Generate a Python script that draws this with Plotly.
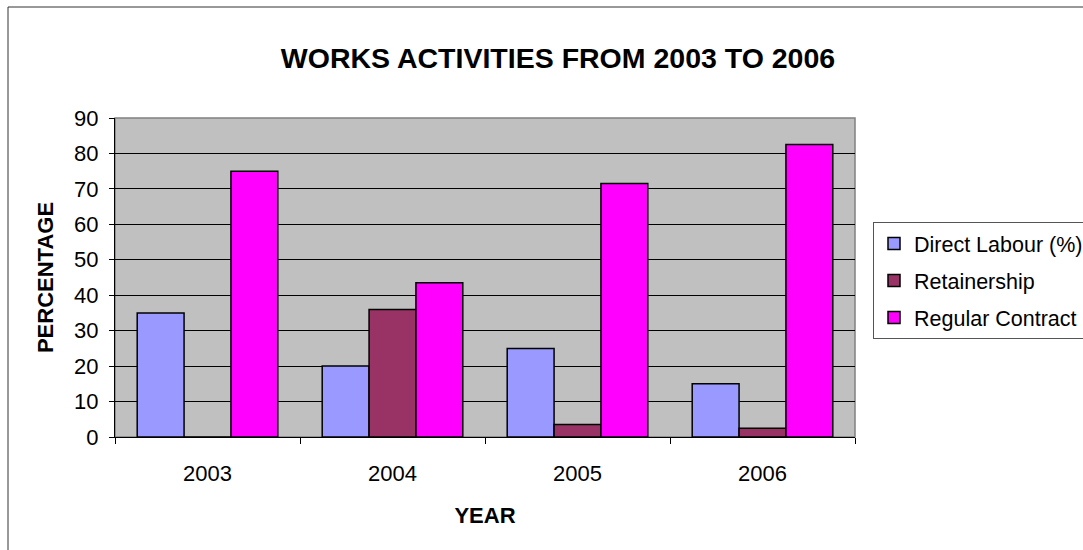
import plotly.graph_objects as go

years = ["2003", "2004", "2005", "2006"]
direct_labour = [35, 20, 25, 15]
retainership = [0, 36, 3.5, 2.5]
regular_contract = [75, 43.5, 71.5, 82.5]

series_names = ["Direct Labour (%)", "Retainership", "Regular Contract"]
series_colors = ["#9999FF", "#993366", "#FF00FF"]

FONT = "Liberation Sans, Arial, sans-serif"

fig = go.Figure()
for i, (name, vals, col) in enumerate(zip(series_names, [direct_labour, retainership, regular_contract], series_colors)):
    fig.add_trace(go.Bar(
        x=years, y=vals, name=name, legendgroup=f"g{i}",
        marker=dict(color=col, line=dict(color="black", width=1.5)),
    ))

L, R, T, B = 115, 228, 118, 113
W, H = 1083, 550
pw, ph = W - L - R, H - T - B

def px_x(p):
    return (p - L) / pw

def px_y(p):
    return (H - B - p) / ph

fig.update_layout(
    width=W, height=H,
    margin=dict(l=L, r=R, t=T, b=B, autoexpand=False),
    paper_bgcolor="white",
    plot_bgcolor="#C0C0C0",
    barmode="group",
    bargap=0.24,
    bargroupgap=0,
    font=dict(family=FONT, size=22, color="black"),
    title=dict(text="<b>WORKS ACTIVITIES FROM 2003 TO 2006</b>",
               x=558 / W, xanchor="center", xref="container",
               y=1 - 58 / H, yanchor="middle", yref="container",
               font=dict(family=FONT, size=28.5, color="black")),
    legend=dict(
        x=px_x(873), y=px_y(222), xanchor="left", yanchor="top",
        bordercolor="#555555", borderwidth=1, bgcolor="white",
        font=dict(family=FONT, size=21.5, color="black"),
        tracegroupgap=6, itemwidth=30,
    ),
    showlegend=True,
    xaxis=dict(
        type="category",
        showgrid=False,
        showline=True, linecolor="black", linewidth=1,
        ticks="outside", tickson="boundaries", ticklen=6, tickcolor="black",
        ticklabelstandoff=17,
        tickfont=dict(family=FONT, size=22, color="black"),
        title=dict(text="<b>YEAR</b>", font=dict(family=FONT, size=22, color="black"), standoff=22),
    ),
    yaxis=dict(
        range=[0, 90], dtick=10,
        showgrid=True, gridcolor="black", gridwidth=1,
        showline=True, linecolor="black", linewidth=1,
        ticks="outside", ticklen=5, tickcolor="black",
        ticklabelstandoff=6,
        tickfont=dict(family=FONT, size=22, color="black"),
        zeroline=False,
        title=dict(text="<b>PERCENTAGE</b>", font=dict(family=FONT, size=22, color="black"), standoff=14),
    ),
    shapes=[
        dict(type="rect", xref="paper", yref="paper", x0=0, x1=1, y0=0, y1=1,
             line=dict(color="#808080", width=1.5), layer="below"),
        dict(type="rect", xref="paper", yref="paper",
             x0=px_x(8), x1=px_x(1095), y0=px_y(570), y1=px_y(7),
             line=dict(color="#333333", width=1), layer="below"),
    ],
)

fig.write_html("out.html")
